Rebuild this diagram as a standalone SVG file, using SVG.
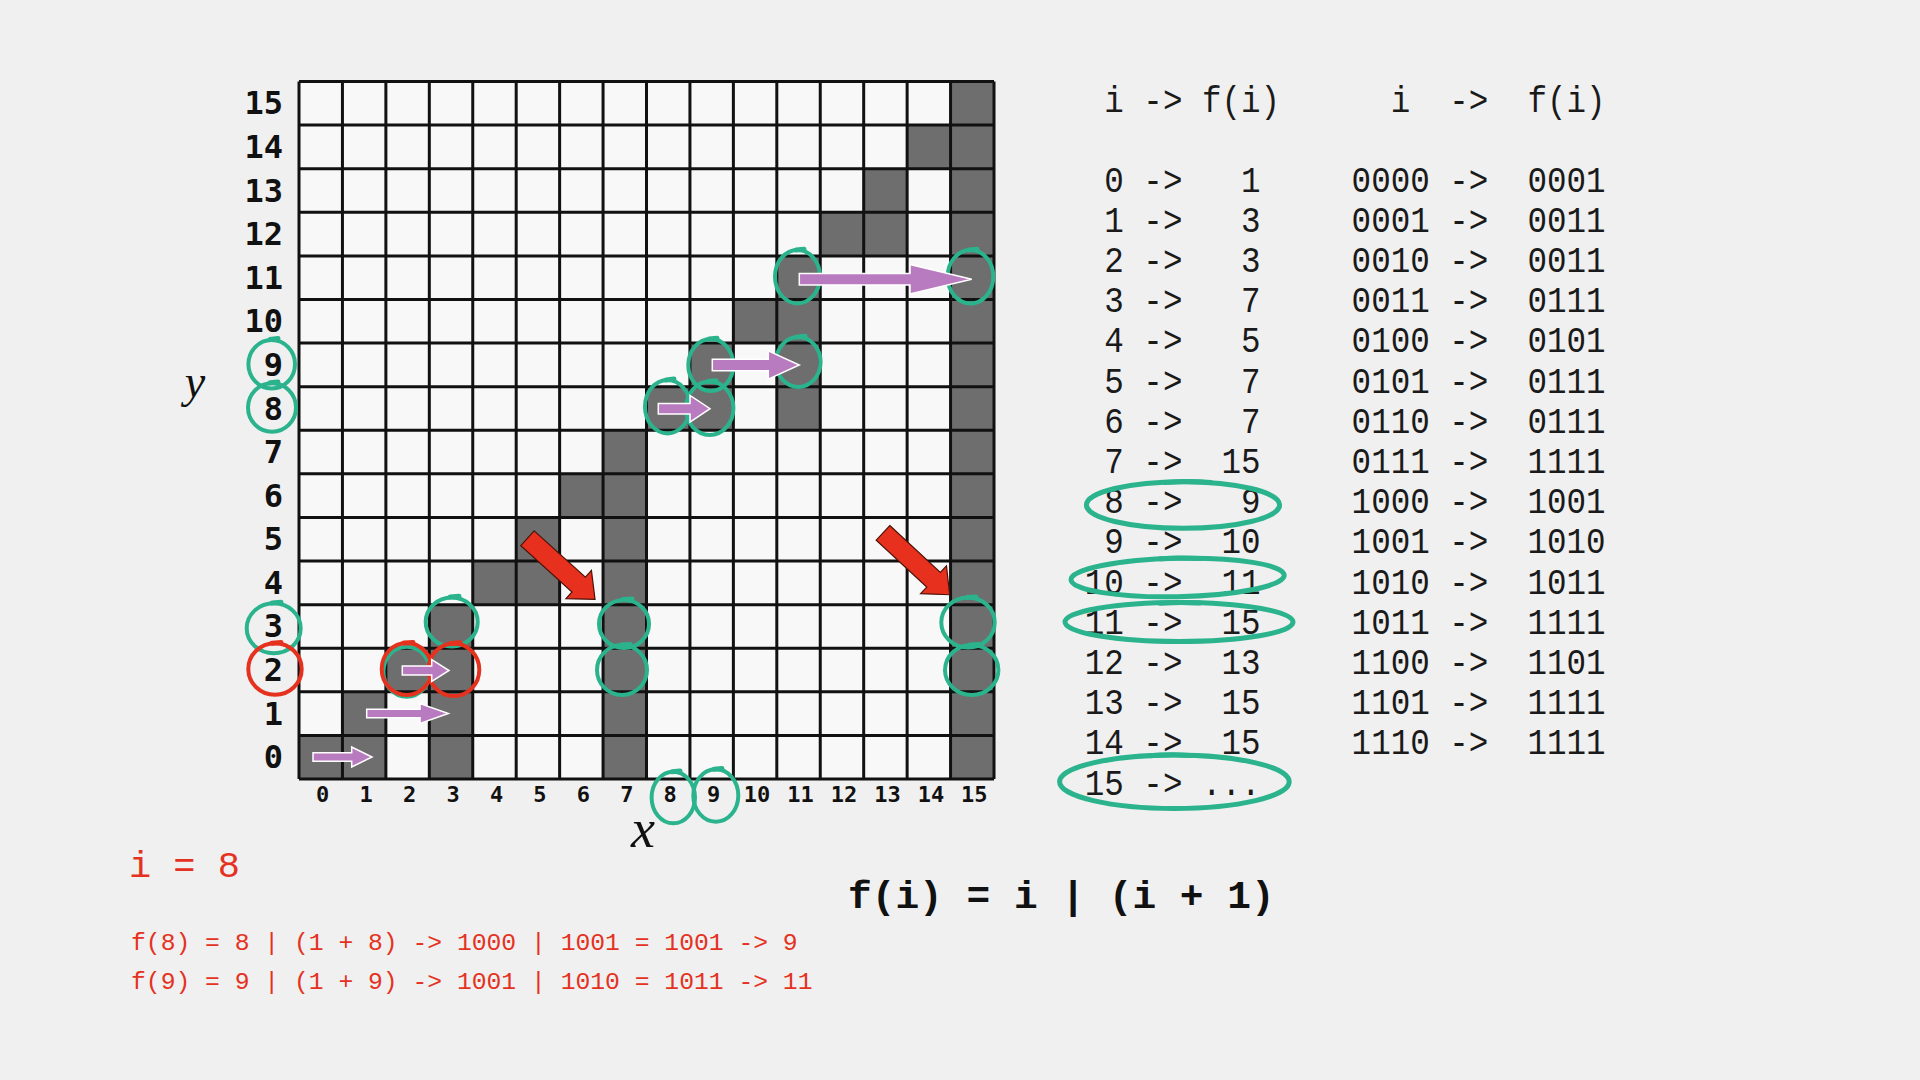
<svg xmlns="http://www.w3.org/2000/svg" width="1920" height="1080" viewBox="0 0 1920 1080">
<style>
.bg{fill:#f0f0f0}
.cellbg{fill:#f8f8f8}
.dark{fill:#6e6e6e}
.gl{stroke:#111;stroke-width:3;fill:none}
.ylab{font-family:"DejaVu Sans Mono",monospace;font-weight:bold;font-size:32px;fill:#111;text-anchor:end}
.xlab{font-family:"DejaVu Sans Mono",monospace;font-weight:bold;font-size:22px;fill:#111;text-anchor:middle}
.axis{font-family:"Liberation Serif",serif;font-style:italic;fill:#111;text-anchor:middle}
.tbl{font-family:"Liberation Mono",monospace;font-size:37px;fill:#1a1a1a;white-space:pre}
.red{font-family:"Liberation Mono",monospace;fill:#e5321f;white-space:pre}
.formula{font-family:"Liberation Mono",monospace;font-weight:bold;font-size:39.5px;fill:#111;white-space:pre}
.ring{fill:none;stroke:#2bb38d;stroke-width:4}
.ringr{fill:none;stroke:#e5321f;stroke-width:4}
.tick{fill:none;stroke:#2bb38d;stroke-width:5;stroke-linecap:round}
.tickr{fill:none;stroke:#e5321f;stroke-width:5;stroke-linecap:round}
.ell{fill:none;stroke:#2bb38d;stroke-width:5}
.parrow{fill:#b97bbf;stroke:#ffffff;stroke-width:1.5}
.rarrow{fill:#e8301e;stroke:#4a1208;stroke-width:1.2}
</style>
<defs>
<path id="redArrow" d="M0,-10 L69,-10 L69,-19 L91,0 L69,19 L69,10 L0,10 Z"/>
</defs>
<rect class="bg" x="0" y="0" width="1920" height="1080"/>

<g id="grid">
<rect class="cellbg" x="299" y="81.5" width="695" height="697.5"/>
<g id="filled-cells">
<rect class="dark" x="299" y="735.41" width="43.44" height="43.59"/>
<rect class="dark" x="342.44" y="691.81" width="43.44" height="87.19"/>
<rect class="dark" x="385.88" y="648.22" width="43.44" height="43.59"/>
<rect class="dark" x="429.31" y="604.63" width="43.44" height="174.38"/>
<rect class="dark" x="472.75" y="561.03" width="43.44" height="43.59"/>
<rect class="dark" x="516.19" y="517.44" width="43.44" height="87.19"/>
<rect class="dark" x="559.63" y="473.84" width="43.44" height="43.59"/>
<rect class="dark" x="603.06" y="430.25" width="43.44" height="348.75"/>
<rect class="dark" x="646.5" y="386.66" width="43.44" height="43.59"/>
<rect class="dark" x="689.94" y="343.06" width="43.44" height="87.19"/>
<rect class="dark" x="733.38" y="299.47" width="43.44" height="43.59"/>
<rect class="dark" x="776.81" y="255.88" width="43.44" height="174.38"/>
<rect class="dark" x="820.25" y="212.28" width="43.44" height="43.59"/>
<rect class="dark" x="863.69" y="168.69" width="43.44" height="87.19"/>
<rect class="dark" x="907.13" y="125.09" width="43.44" height="43.59"/>
<rect class="dark" x="950.56" y="81.5" width="43.44" height="697.5"/>
</g>
<path class="gl" d="M299,81.5V779 M342.44,81.5V779 M385.88,81.5V779 M429.31,81.5V779 M472.75,81.5V779 M516.19,81.5V779 M559.63,81.5V779 M603.06,81.5V779 M646.5,81.5V779 M689.94,81.5V779 M733.38,81.5V779 M776.81,81.5V779 M820.25,81.5V779 M863.69,81.5V779 M907.13,81.5V779 M950.56,81.5V779 M994,81.5V779 M299,81.5H994 M299,125.09H994 M299,168.69H994 M299,212.28H994 M299,255.88H994 M299,299.47H994 M299,343.06H994 M299,386.66H994 M299,430.25H994 M299,473.84H994 M299,517.44H994 M299,561.03H994 M299,604.63H994 M299,648.22H994 M299,691.81H994 M299,735.41H994 M299,779H994"/>
</g>

<g id="y-axis">
<text class="ylab" x="283" y="114.3">15</text>
<text class="ylab" x="283" y="157.9">14</text>
<text class="ylab" x="283" y="201.5">13</text>
<text class="ylab" x="283" y="245.1">12</text>
<text class="ylab" x="283" y="288.7">11</text>
<text class="ylab" x="283" y="332.3">10</text>
<text class="ylab" x="283" y="375.9">9</text>
<text class="ylab" x="283" y="419.5">8</text>
<text class="ylab" x="283" y="463.1">7</text>
<text class="ylab" x="283" y="506.6">6</text>
<text class="ylab" x="283" y="550.2">5</text>
<text class="ylab" x="283" y="593.8">4</text>
<text class="ylab" x="283" y="637.4">3</text>
<text class="ylab" x="283" y="681">2</text>
<text class="ylab" x="283" y="724.6">1</text>
<text class="ylab" x="283" y="768.2">0</text>
<text class="axis" x="195" y="397" font-size="46">y</text>
</g>

<g id="x-axis">
<text class="xlab" x="322.7" y="802">0</text>
<text class="xlab" x="366.2" y="802">1</text>
<text class="xlab" x="409.6" y="802">2</text>
<text class="xlab" x="453" y="802">3</text>
<text class="xlab" x="496.5" y="802">4</text>
<text class="xlab" x="539.9" y="802">5</text>
<text class="xlab" x="583.4" y="802">6</text>
<text class="xlab" x="626.8" y="802">7</text>
<text class="xlab" x="670.2" y="802">8</text>
<text class="xlab" x="713.7" y="802">9</text>
<text class="xlab" x="757.1" y="802">10</text>
<text class="xlab" x="800.5" y="802">11</text>
<text class="xlab" x="844" y="802">12</text>
<text class="xlab" x="887.4" y="802">13</text>
<text class="xlab" x="930.9" y="802">14</text>
<text class="xlab" x="974.3" y="802">15</text>
<text class="axis" x="643" y="847" font-size="54">x</text>
</g>

<g id="green-marks">
<ellipse class="ring" cx="271.7" cy="364.2" rx="23.3" ry="24.2"/>
<ellipse class="ring" cx="272" cy="407.5" rx="24" ry="24.2"/>
<ellipse class="ring" cx="273.7" cy="628.3" rx="27" ry="25"/>
<ellipse class="ring" cx="451.7" cy="622" rx="26" ry="24.5"/>
<ellipse class="ring" cx="406.7" cy="671.7" rx="23.3" ry="25"/>
<ellipse class="ring" cx="624" cy="624" rx="25" ry="24"/>
<ellipse class="ring" cx="622" cy="670" rx="25" ry="25"/>
<ellipse class="ring" cx="968" cy="622.5" rx="26.7" ry="25"/>
<ellipse class="ring" cx="971.7" cy="670" rx="26.7" ry="25"/>
<ellipse class="ring" cx="667.5" cy="406.7" rx="22.5" ry="26.7"/>
<ellipse class="ring" cx="709.7" cy="408.3" rx="23.7" ry="26.7"/>
<ellipse class="ring" cx="710.8" cy="365" rx="22.5" ry="26"/>
<ellipse class="ring" cx="798.3" cy="362" rx="22.3" ry="25"/>
<ellipse class="ring" cx="797.5" cy="276.7" rx="22.5" ry="26.7"/>
<ellipse class="ring" cx="970.5" cy="276.7" rx="22.8" ry="26.7"/>
<ellipse class="ring" cx="673.3" cy="797.5" rx="21.7" ry="25.8"/>
<ellipse class="ring" cx="715.8" cy="795.5" rx="22.5" ry="26.2"/>
<path class="tick" d="M270,339.5 L278,338.5 M270,382.8 L278,382 M272,603 L281,602.3 M450,597 L459,596.3 M623,599.5 L632,599 M621,645 L630,644.5 M967,597.5 L976,597 M970,645 L979,644.5 M666,380 L674,379 M708,381.6 L716,380.8 M709,339 L717,338.3 M797,337 L805,336.3 M796,250 L804,249.3 M969,250 L977,249.3 M672,771.7 L680,771 M714,769.3 L722,768.5"/>
</g>

<g id="red-marks">
<ellipse class="ringr" cx="275" cy="669" rx="26.7" ry="25.8"/>
<ellipse class="ringr" cx="406.7" cy="669" rx="25" ry="26"/>
<ellipse class="ringr" cx="453.8" cy="669.7" rx="25.5" ry="26.3"/>
<path class="tickr" d="M272,643.2 L281,642.6 M404,643 L413,642.4 M451,643.4 L460,642.8"/>
</g>

<g id="connectors">
<path class="parrow" d="M313,752.8 L351.7,752.8 L351.7,747 L372,757 L351.7,767 L351.7,761.2 L313,761.2 Z"/>
<path class="parrow" d="M366.7,709.3 L420,709.3 L420,703.5 L448.3,713.5 L420,723.5 L420,717.7 L366.7,717.7 Z"/>
<path class="parrow" d="M402.3,666 L431.7,666 L431.7,659.7 L449,670.5 L431.7,681.3 L431.7,675 L402.3,675 Z"/>
<path class="parrow" d="M658.3,403.4 L690,403.4 L690,395.4 L710,408.7 L690,422 L690,414 L658.3,414 Z"/>
<path class="parrow" d="M712.3,359.3 L768.3,359.3 L768.3,350.8 L799.3,365 L768.3,379.2 L768.3,370.7 L712.3,370.7 Z"/>
<path class="parrow" d="M799.3,273.4 L910,273.4 L910,264.5 L971.7,279.2 L910,293.9 L910,285 L799.3,285 Z"/>
<use href="#redArrow" class="rarrow" transform="translate(527.5,538.3) rotate(42.1)"/>
<use href="#redArrow" class="rarrow" transform="translate(883,532.8) rotate(42.9)"/>
</g>

<g id="table-decimal" transform="translate(1084.75 0) scale(0.88 1)">
<text class="tbl" x="0" y="112" xml:space="preserve"> i -> f(i)</text>
<text class="tbl" x="0" y="191.7" xml:space="preserve"> 0 ->   1</text>
<text class="tbl" x="0" y="231.9" xml:space="preserve"> 1 ->   3</text>
<text class="tbl" x="0" y="272.1" xml:space="preserve"> 2 ->   3</text>
<text class="tbl" x="0" y="312.3" xml:space="preserve"> 3 ->   7</text>
<text class="tbl" x="0" y="352.5" xml:space="preserve"> 4 ->   5</text>
<text class="tbl" x="0" y="392.7" xml:space="preserve"> 5 ->   7</text>
<text class="tbl" x="0" y="432.9" xml:space="preserve"> 6 ->   7</text>
<text class="tbl" x="0" y="473.1" xml:space="preserve"> 7 ->  15</text>
<text class="tbl" x="0" y="513.3" xml:space="preserve"> 8 ->   9</text>
<text class="tbl" x="0" y="553.5" xml:space="preserve"> 9 ->  10</text>
<text class="tbl" x="0" y="593.7" xml:space="preserve">10 ->  11</text>
<text class="tbl" x="0" y="633.9" xml:space="preserve">11 ->  15</text>
<text class="tbl" x="0" y="674.1" xml:space="preserve">12 ->  13</text>
<text class="tbl" x="0" y="714.3" xml:space="preserve">13 ->  15</text>
<text class="tbl" x="0" y="754.5" xml:space="preserve">14 ->  15</text>
<text class="tbl" x="0" y="794.7" xml:space="preserve">15 -> ...</text>
</g>

<g id="table-binary" transform="translate(1351.6 0) scale(0.88 1)">
<text class="tbl" x="0" y="112" xml:space="preserve">  i  ->  f(i)</text>
<text class="tbl" x="0" y="191.7" xml:space="preserve">0000 ->  0001</text>
<text class="tbl" x="0" y="231.9" xml:space="preserve">0001 ->  0011</text>
<text class="tbl" x="0" y="272.1" xml:space="preserve">0010 ->  0011</text>
<text class="tbl" x="0" y="312.3" xml:space="preserve">0011 ->  0111</text>
<text class="tbl" x="0" y="352.5" xml:space="preserve">0100 ->  0101</text>
<text class="tbl" x="0" y="392.7" xml:space="preserve">0101 ->  0111</text>
<text class="tbl" x="0" y="432.9" xml:space="preserve">0110 ->  0111</text>
<text class="tbl" x="0" y="473.1" xml:space="preserve">0111 ->  1111</text>
<text class="tbl" x="0" y="513.3" xml:space="preserve">1000 ->  1001</text>
<text class="tbl" x="0" y="553.5" xml:space="preserve">1001 ->  1010</text>
<text class="tbl" x="0" y="593.7" xml:space="preserve">1010 ->  1011</text>
<text class="tbl" x="0" y="633.9" xml:space="preserve">1011 ->  1111</text>
<text class="tbl" x="0" y="674.1" xml:space="preserve">1100 ->  1101</text>
<text class="tbl" x="0" y="714.3" xml:space="preserve">1101 ->  1111</text>
<text class="tbl" x="0" y="754.5" xml:space="preserve">1110 ->  1111</text>
</g>

<g id="table-highlights">
<ellipse class="ell" cx="1183" cy="505" rx="96.6" ry="23.3"/>
<ellipse class="ell" cx="1177.6" cy="577.5" rx="106.6" ry="19.2" transform="rotate(-1.2 1177.6 577.5)"/>
<ellipse class="ell" cx="1179" cy="622" rx="114" ry="19.5"/>
<ellipse class="ell" cx="1174.4" cy="781.7" rx="114.8" ry="26.7"/>
<path class="tick" stroke-width="7" d="M1165,482.5 Q1188,480.5 1211,482.5 M1160,558.8 Q1180,557.3 1200,558.6 M1160,603.3 Q1180,601.8 1200,603 M1150,755.8 Q1170,754 1190,755.6"/>
</g>

<g id="formula">
<text class="formula" x="848" y="908" xml:space="preserve">f(i) = i | (i + 1)</text>
</g>

<g id="example">
<text class="red" x="128.9" y="876.7" font-size="37" xml:space="preserve">i = 8</text>
<text class="red" x="131" y="950" font-size="24.7" xml:space="preserve">f(8) = 8 | (1 + 8) -> 1000 | 1001 = 1001 -> 9</text>
<text class="red" x="131" y="989" font-size="24.7" xml:space="preserve">f(9) = 9 | (1 + 9) -> 1001 | 1010 = 1011 -> 11</text>
</g>
</svg>
